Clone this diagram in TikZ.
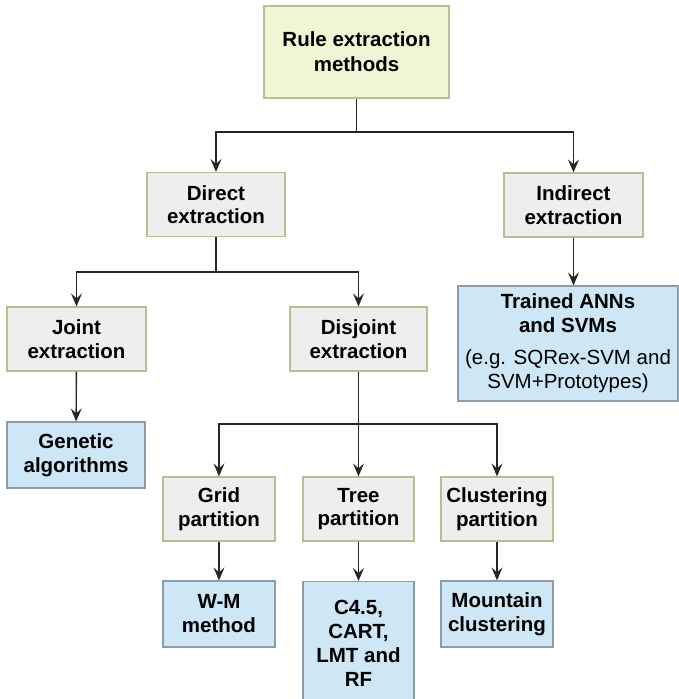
\documentclass[tikz,border=0pt]{standalone}
\usepackage{fontspec}
\setmainfont{Liberation Sans}
\usetikzlibrary{arrows.meta}

\definecolor{rootfill}{HTML}{EEF6D3}
\definecolor{methfill}{HTML}{EDEFEE}
\definecolor{methline}{HTML}{BEBB8E}
\definecolor{toolfill}{HTML}{CDE7F4}
\definecolor{toolline}{HTML}{8B9CAB}

\begin{document}
\begin{tikzpicture}[x=1pt,y=-1pt,
  rootbox/.style={draw=methline, fill=rootfill, line width=1.2pt, align=center,
    font=\fontsize{20.5}{25}\selectfont\bfseries, inner sep=0pt},
  methbox/.style={draw=methline, fill=methfill, line width=1.2pt, align=center,
    font=\fontsize{20.5}{23.5}\selectfont\bfseries, inner sep=0pt,
    minimum height=64pt},
  toolbox/.style={draw=toolline, fill=toolfill, line width=1.2pt, align=center,
    font=\fontsize{20.5}{24}\selectfont\bfseries, inner sep=0pt},
  arrow/.style={-{Stealth[length=13pt,width=11pt,inset=5pt]}, line width=1.4pt, draw=black!85},
  link/.style={line width=1.4pt, draw=black!85}]

 % page
 \useasboundingbox (0,0) rectangle (679,699);

 % nodes
 \node[rootbox, minimum width=185pt, minimum height=92pt] (root) at (356.5,52) {Rule extraction\\methods};

 \node[methbox, minimum width=138pt] (direct)   at (216,204.5) {Direct\\extraction};
 \node[methbox, minimum width=139pt] (indirect) at (573.5,205) {Indirect\\extraction};

 \node[methbox, minimum width=139pt] (joint)    at (76.5,339) {Joint\\extraction};
 \node[methbox, minimum width=137pt] (disjoint) at (358.5,339) {Disjoint\\extraction};

 \node[toolbox, minimum width=220pt, minimum height=115pt] (trained) at (568,343.5)
   {Trained ANNs\\and SVMs\\[8pt]{\mdseries (e.g. SQRex-SVM and}\\{\mdseries SVM+Prototypes)}};
 \node[toolbox, minimum width=138pt, minimum height=66pt] (genetic) at (76,455) {Genetic\\algorithms};

 \node[methbox, minimum width=112pt] (grid)    at (219,509) {Grid\\partition};
 \node[methbox, minimum width=111pt] (tree)    at (358.5,509) {Tree\\partition};
 \node[methbox, minimum width=112pt] (cluster) at (497,509) {Clustering\\partition};

 \node[toolbox, minimum width=112pt, minimum height=66pt] (wm) at (219,614) {W-M\\method};
 \node[toolbox, minimum width=111pt, minimum height=124pt, anchor=north] (cart) at (358.5,581)
   {C4.5,\\CART,\\LMT and\\RF};
 \node[toolbox, minimum width=112pt, minimum height=66pt] (mountain) at (497,614) {Mountain\\clustering};

 % split points
 \coordinate (s1) at (356.5,132);
 \coordinate (s2) at (216,272);
 \coordinate (s3) at (358.5,424);

 % arrows
 \draw[link] (root) -- (s1);
 \draw[arrow] (s1) -| (direct);
 \draw[arrow] (s1) -| (indirect);
 \draw[link] (direct) -- (s2);
 \draw[arrow] (s2) -| (joint);
 \draw[arrow] (s2) -| (disjoint);
 \draw[arrow] (indirect) -- (indirect.south |- trained.north);
 \draw[arrow] (joint) -- (genetic);
 \draw[link] (disjoint) -- (s3);
 \draw[arrow] (s3) -| (grid);
 \draw[arrow] (s3) -- (tree);
 \draw[arrow] (s3) -| (cluster);
 \draw[arrow] (grid) -- (wm);
 \draw[arrow] (tree) -- (cart);
 \draw[arrow] (cluster) -- (mountain);
\end{tikzpicture}
\end{document}
